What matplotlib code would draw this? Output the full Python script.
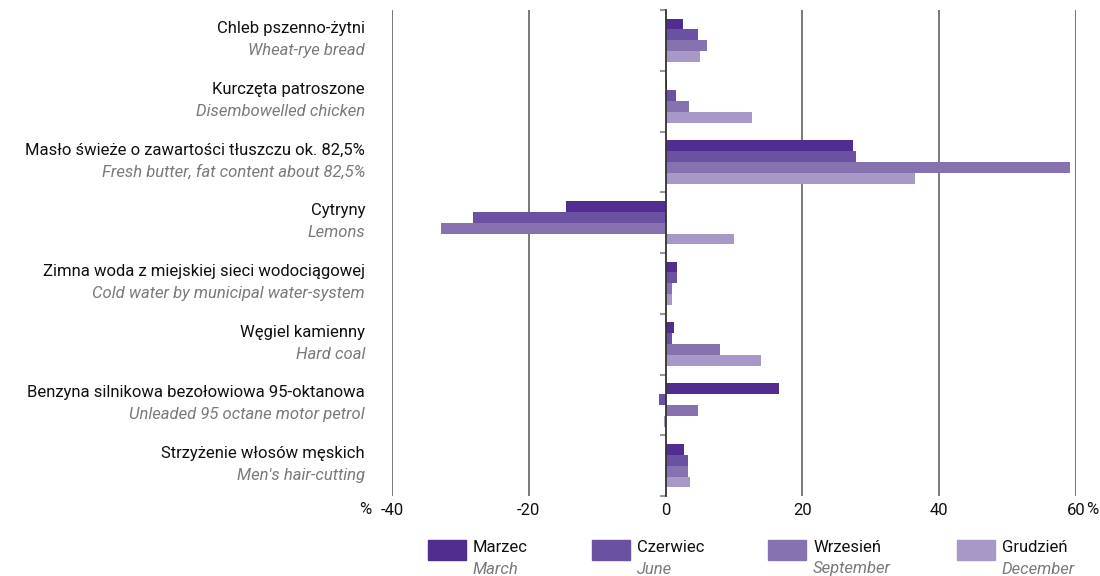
import matplotlib
matplotlib.use("Agg")
import matplotlib.pyplot as plt
from matplotlib.patches import Rectangle

plt.rcParams["font.family"] = ["Roboto", "DejaVu Sans"]

categories_pl = [
    "Chleb pszenno-żytni",
    "Kurczęta patroszone",
    "Masło świeże o zawartości tłuszczu ok. 82,5%",
    "Cytryny",
    "Zimna woda z miejskiej sieci wodociągowej",
    "Węgiel kamienny",
    "Benzyna silnikowa bezołowiowa 95-oktanowa",
    "Strzyżenie włosów męskich",
]
categories_en = [
    "Wheat-rye bread",
    "Disembowelled chicken",
    "Fresh butter, fat content about 82,5%",
    "Lemons",
    "Cold water by municipal water-system",
    "Hard coal",
    "Unleaded 95 octane motor petrol",
    "Men's hair-cutting",
]
months_pl = ["Marzec", "Czerwiec", "Wrzesień", "Grudzień"]
months_en = ["March", "June", "September", "December"]

march = [2.6, 0.2, 27.4, -14.6, 1.7, 1.3, 16.6, 2.7]
june = [4.7, 1.5, 27.8, -28.2, 1.7, 0.9, -0.9, 3.3]
september = [6.1, 3.4, 59.1, -32.8, 0.9, 7.9, 4.8, 3.3]
december = [5.0, 12.6, 36.4, 10.0, 0.9, 13.9, -0.2, 3.6]

xticks = [-40, -20, 0, 20, 40, 60]

colors = ["#502D8F", "#6A51A1", "#8772B0", "#A898C8"]
series = [march, june, september, december]
offsets = [-0.27, -0.09, 0.09, 0.27]

W, H = 1100, 576
FS = 12

fig = plt.figure(figsize=(11, 5.76), dpi=100)
ax_left, ax_right, ax_top, ax_bottom = 392, 1076, 10, 496
ax = fig.add_axes([ax_left / W, 1 - ax_bottom / H,
                   (ax_right - ax_left) / W, (ax_bottom - ax_top) / H])

n = len(categories_pl)
for vals, col, off in zip(series, colors, offsets):
    ys = [i + 0.5 + off for i in range(n)]
    ax.barh(ys, vals, height=0.18, color=col, zorder=3)

ax.set_xlim(xticks[0], xticks[-1])
ax.set_ylim(n, 0)
for x in xticks:
    if x != 0:
        ax.axvline(x, color="#6d6d6d", lw=1.3, zorder=1)

for s in ["top", "right", "bottom"]:
    ax.spines[s].set_visible(False)
ax.spines["left"].set_position(("data", 0))
ax.spines["left"].set_color("#333333")
ax.spines["left"].set_linewidth(1.3)
ax.spines["left"].set_zorder(4)
ax.set_yticks(range(n + 1))
ax.set_yticklabels([])
ax.tick_params(axis="y", length=4, color="#999999", width=1.5)

ax.set_xticks(xticks)
ax.set_xticklabels([str(x) for x in xticks])
ax.tick_params(axis="x", length=0, labelsize=FS, pad=5, labelcolor="#111111")

# percent signs around the outer tick labels
fig.text(365 / W, 1 - 509 / H, "%", fontsize=FS, ha="center", va="center", color="#111111")
fig.text(1092 / W, 1 - 509 / H, "%", fontsize=FS, ha="center", va="center", color="#111111")

# category labels: Polish name over English italic translation
band = (ax_bottom - ax_top) / n
for i, (pl, en) in enumerate(zip(categories_pl, categories_en)):
    yc = ax_top + (i + 0.5) * band
    fig.text(365 / W, 1 - (yc - 12) / H, pl, fontsize=FS, ha="right", va="center",
             color="#111111")
    fig.text(365 / W, 1 - (yc + 10) / H, en, fontsize=FS, ha="right", va="center",
             color="#7a7a7a", style="italic")

# legend drawn by hand (two-line labels with mixed styles)
leg_x = [428, 592, 768, 957]
for x, col, pl, en in zip(leg_x, colors, months_pl, months_en):
    fig.patches.append(Rectangle((x / W, 1 - 560 / H), 38 / W, 20 / H,
                                 transform=fig.transFigure, color=col, figure=fig))
    fig.text((x + 45) / W, 1 - 548 / H, pl, fontsize=FS, ha="left", va="center",
             color="#111111")
    fig.text((x + 45) / W, 1 - 569 / H, en, fontsize=FS, ha="left", va="center",
             color="#7a7a7a", style="italic")

fig.savefig("out.png", dpi=100)
